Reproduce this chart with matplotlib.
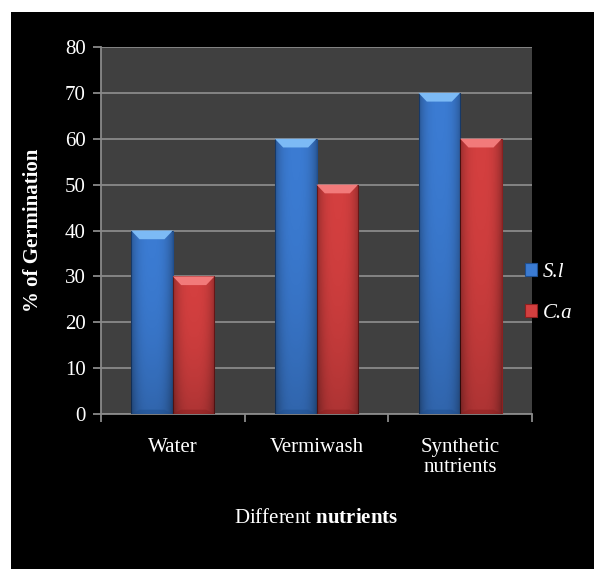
import matplotlib.pyplot as plt
import numpy as np
from matplotlib.patches import Rectangle, Polygon

plt.rcParams['font.family'] = ['Liberation Serif', 'DejaVu Serif']
plt.rcParams['mathtext.fontset'] = 'custom'
plt.rcParams['mathtext.rm'] = 'Liberation Serif'
plt.rcParams['mathtext.bf'] = 'Liberation Serif:bold'

categories = ['Water', 'Vermiwash', 'Synthetic\nnutrients']
sl_values = [40, 60, 70]
ca_values = [30, 50, 60]
series_names = ['S.l', 'C.a']
yticks = [0, 10, 20, 30, 40, 50, 60, 70, 80]

# base, highlight, edge
colors = {'S.l': ('#3b7bd2', '#7cbaf5', '#1f4f8f'),
          'C.a': ('#d33f3f', '#f27a7a', '#8c2020')}

fig = plt.figure(figsize=(5.94, 5.69), dpi=100, facecolor='white')
fig.patches.append(Rectangle((11 / 594, 0), 1, 1 - 12 / 569, transform=fig.transFigure,
                             facecolor='black', edgecolor='none', zorder=-10))
ax = fig.add_axes([101 / 594, 1 - 414 / 569, 431 / 594, 367 / 569])
ax.set_facecolor('#404040')

x = np.arange(len(categories))
width = 0.29

# dark overlay: edges of the bar darker, bottom a bit darker
gx = np.linspace(-1, 1, 64)
gy = np.linspace(0, 1, 64)[:, None]
overlay = np.zeros((64, 64, 4))
overlay[..., 3] = 0.28 * np.abs(gx)[None, :] ** 3 + 0.18 * (1 - gy) ** 2


def bevel_bars(xpos, vals, name):
    base, light, dark = colors[name]
    bars = ax.bar(xpos, vals, width, color=base, edgecolor=dark, linewidth=0.8,
                  zorder=3, label=name)
    for b in bars:
        x0, x1 = b.get_x(), b.get_x() + b.get_width()
        h = b.get_height()
        img = ax.imshow(overlay, extent=[x0, x1, 0, h], origin='lower',
                        aspect='auto', zorder=3.5, interpolation='bilinear')
        img.set_clip_path(b)
        d = b.get_width() * 0.2
        dy = 1.9
        ax.add_patch(Polygon([(x0, h), (x1, h), (x1 - d, h - dy), (x0 + d, h - dy)],
                             closed=True, facecolor=light, edgecolor='none', zorder=4))
        ax.add_patch(Polygon([(x0, 0), (x1, 0), (x1 - d, dy * 0.5), (x0 + d, dy * 0.5)],
                             closed=True, facecolor=dark, edgecolor='none', alpha=0.5, zorder=4))
    return bars


bevel_bars(x - width / 2, sl_values, 'S.l')
bevel_bars(x + width / 2, ca_values, 'C.a')

ax.set_xlim(-0.5, len(categories) - 0.5)
ax.set_ylim(0, 80)
ax.set_yticks(yticks)
ax.yaxis.grid(True, color='#8a8a8a', linewidth=1.3, zorder=0)
ax.set_axisbelow(True)

ax.set_xticks(x)
ax.set_xticklabels(categories, color='white', fontsize=15, linespacing=1.1)
ax.set_xticks(np.arange(-0.5, len(categories)), minor=True)
ax.tick_params(axis='x', which='major', length=0, pad=17)
ax.tick_params(axis='x', which='minor', length=6, color='#8a8a8a', width=1.3)
ax.tick_params(axis='y', length=6, color='#8a8a8a', width=1.3, labelsize=15,
               labelcolor='white', pad=5)

for side in ['top', 'right']:
    ax.spines[side].set_visible(False)
for side in ['left', 'bottom']:
    ax.spines[side].set_color('#8a8a8a')
    ax.spines[side].set_linewidth(1.3)

ax.set_ylabel('% of Germination', color='white', fontsize=15, fontweight='bold', labelpad=16)
ax.set_xlabel(r'Different $\mathbf{nutrients}$', color='white', fontsize=15, labelpad=23)

leg = ax.legend(loc='center left', bbox_to_anchor=(0.984, 0.33), frameon=False,
                borderpad=0, borderaxespad=0,
                handlelength=0.55, handleheight=0.55, handletextpad=0.3, labelspacing=1.05,
                prop={'style': 'italic', 'size': 15})
for t in leg.get_texts():
    t.set_color('white')

fig.savefig('out.png', dpi=100, facecolor=fig.get_facecolor())
